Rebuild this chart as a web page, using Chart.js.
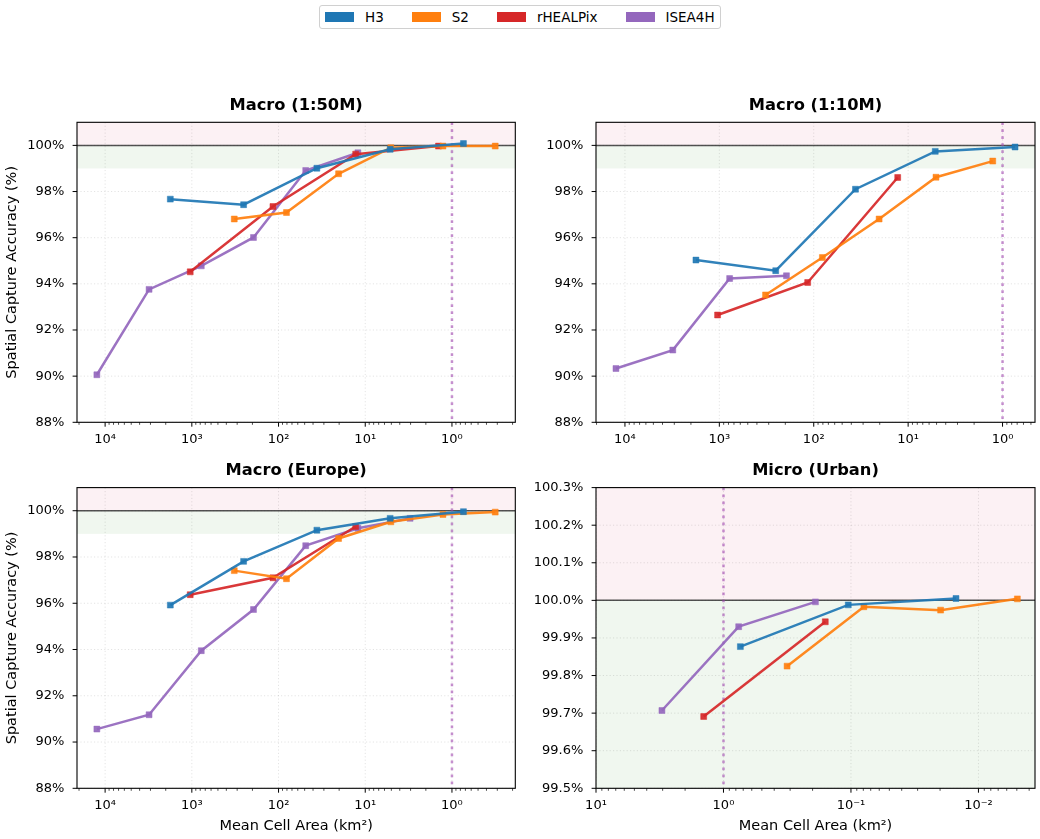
<!DOCTYPE html>
<html>
<head>
<meta charset="utf-8">
<title>Spatial Capture Accuracy by Grid System</title>
<script src="https://cdn.jsdelivr.net/npm/chart.js@4.4.1/dist/chart.umd.min.js"></script>
<style>
  html, body { margin: 0; padding: 0; background: #fff; }
  body { width: 1040px; height: 839px; position: relative; overflow: hidden; font-family: "DejaVu Sans", sans-serif; }
  canvas { position: absolute; display: block; }
  #legend {
    position: absolute; left: 319px; top: 5px; height: 24px;
    box-sizing: border-box; border: 1px solid #d0d0d0; border-radius: 3px;
    display: flex; align-items: center; padding: 0 5px 0 5px; gap: 28px;
    font-size: 13.5px; color: #000; background: #fff;
  }
  #legend .item { display: flex; align-items: center; gap: 11px; }
  #legend .patch { width: 29px; height: 10px; }
</style>
</head>
<body>
<div id="legend"></div>
<canvas id="p1" width="520" height="360" style="left:0;top:90px;width:520px;height:360px"></canvas>
<canvas id="p2" width="520" height="360" style="left:520px;top:90px;width:520px;height:360px"></canvas>
<canvas id="p3" width="520" height="389" style="left:0;top:450px;width:520px;height:389px"></canvas>
<canvas id="p4" width="520" height="389" style="left:520px;top:450px;width:520px;height:389px"></canvas>
<script>
// ---- grid systems ----
const SERIES = ['H3', 'S2', 'rHEALPix', 'ISEA4H'];
const COLORS = ['#1f77b4', '#ff7f0e', '#d62728', '#9467bd'];

// mean cell area (km²) of successive resolution levels
const H3_AREA   = [1770, 252.9, 36.13, 5.161, 0.737, 0.105, 0.0150];
const S2_AREA   = [324, 81, 20.3, 5.07, 1.27, 0.317, 0.0792, 0.0198, 0.00495];
const RHP_AREA  = [1044, 116, 12.9, 1.43, 0.159];
const ISEA_AREA = [12450, 3113, 778, 194.5, 48.6, 12.16, 3.04, 0.76, 0.19];

// spatial capture accuracy (%) — Macro (1:50M)
const M50_H3   = [97.67, 97.43, 99.01, 99.83, 100.08];
const M50_S2   = [96.81, 97.09, 98.77, 99.90, 99.97, 99.97];
const M50_RHP  = [94.52, 97.35, 99.62, 99.97];
const M50_ISEA = [90.06, 93.76, 94.78, 96.01, 98.91, 99.68];

// Macro (1:10M)
const M10_H3   = [95.03, 94.57, 98.10, 99.74, 99.93];
const M10_S2   = [93.52, 95.14, 96.81, 98.62, 99.32];
const M10_RHP  = [92.65, 94.06, 98.61];
const M10_ISEA = [90.33, 91.13, 94.23, 94.35];

// Macro (Europe)
const EU_H3   = [95.92, 97.81, 99.16, 99.67, 99.96];
const EU_S2   = [97.41, 97.06, 98.80, 99.52, 99.84, 99.94];
const EU_RHP  = [96.37, 97.10, 99.32];
const EU_ISEA = [90.56, 91.18, 93.95, 95.73, 98.49, 99.24, 99.67];

// Micro (Urban) — finer levels, so area lists start further in
const URB_H3   = [99.877, 99.988, 100.005];
const URB_S2   = [99.825, 99.983, 99.974, 100.004];
const URB_RHP  = [99.691, 99.943];
const URB_ISEA = [99.707, 99.930, 99.996];
const URB_START = [4, 5, 3, 6];

// tick labels
const X_MAJOR_MACRO = [1e4, 1e3, 1e2, 1e1, 1e0];
const X_LABEL_MACRO = ['10\u2074', '10\u00b3', '10\u00b2', '10\u00b9', '10\u2070'];
const X_MAJOR_MICRO = [1e1, 1e0, 1e-1, 1e-2];
const X_LABEL_MICRO = ['10\u00b9', '10\u2070', '10\u207b\u00b9', '10\u207b\u00b2'];
const Y_TICKS_MACRO = [88, 90, 92, 94, 96, 98, 100];
const Y_TICKS_MICRO = [99.5, 99.6, 99.7, 99.8, 99.9, 100.0, 100.1, 100.2, 100.3];

const AREAS = [H3_AREA, S2_AREA, RHP_AREA, ISEA_AREA];
const FONT = '"DejaVu Sans", sans-serif';

// legend
const legend = document.getElementById('legend');
SERIES.forEach((name, i) => {
  const it = document.createElement('div');
  it.className = 'item';
  const p = document.createElement('span');
  p.className = 'patch';
  p.style.background = COLORS[i];
  const t = document.createElement('span');
  t.textContent = name;
  it.appendChild(p); it.appendChild(t);
  legend.appendChild(it);
});

function withAlpha(hex, a) {
  const n = parseInt(hex.slice(1), 16);
  return `rgba(${(n >> 16) & 255},${(n >> 8) & 255},${n & 255},${a})`;
}

function logTicks(min, max, majors, labels) {
  const out = [];
  const k0 = Math.floor(Math.log10(min)), k1 = Math.ceil(Math.log10(max));
  for (let k = k0; k <= k1; k++) {
    for (let m = 1; m <= 9; m++) {
      const v = m * Math.pow(10, k);
      if (v < min || v > max) continue;
      const mi = majors.findIndex(t => Math.abs(Math.log10(t) - Math.log10(v)) < 1e-9);
      out.push({ value: v, txt: mi >= 0 ? labels[mi] : '', main: mi >= 0 });
    }
  }
  return out;
}

// bands, grid, reference lines, frame and tick marks
const decor = {
  id: 'decor',
  beforeDatasetsDraw(chart) {
    const { ctx, chartArea: a, scales: { x, y } } = chart;
    ctx.save();
    ctx.beginPath();
    ctx.rect(a.left, a.top, a.width, a.height);
    ctx.clip();
    const y100 = y.getPixelForValue(100);
    const y99 = Math.min(y.getPixelForValue(99), a.bottom);
    ctx.fillStyle = '#fcf1f4';
    ctx.fillRect(a.left, a.top, a.width, y100 - a.top);
    ctx.fillStyle = '#f0f7ef';
    ctx.fillRect(a.left, y100, a.width, y99 - y100);

    ctx.strokeStyle = 'rgba(0,0,0,0.14)';
    ctx.lineWidth = 0.8;
    ctx.setLineDash([1.2, 2.2]);
    x.ticks.forEach(t => {
      if (!t.main) return;
      const px = x.getPixelForValue(t.value);
      ctx.beginPath(); ctx.moveTo(px, a.top); ctx.lineTo(px, a.bottom); ctx.stroke();
    });
    y.ticks.forEach(t => {
      const py = y.getPixelForValue(t.value);
      ctx.beginPath(); ctx.moveTo(a.left, py); ctx.lineTo(a.right, py); ctx.stroke();
    });

    ctx.setLineDash([]);
    ctx.strokeStyle = 'rgba(40,40,40,0.8)';
    ctx.lineWidth = 1.5;
    ctx.beginPath(); ctx.moveTo(a.left, y100); ctx.lineTo(a.right, y100); ctx.stroke();

    const x1 = x.getPixelForValue(1);
    ctx.strokeStyle = 'rgba(160,70,175,0.6)';
    ctx.lineWidth = 2.5;
    ctx.setLineDash([2.6, 4.4]);
    ctx.beginPath(); ctx.moveTo(x1, a.top); ctx.lineTo(x1, a.bottom); ctx.stroke();
    ctx.restore();
  },
  afterDraw(chart) {
    const { ctx, chartArea: a, scales: { x, y } } = chart;
    ctx.save();
    ctx.strokeStyle = '#000';
    ctx.lineWidth = 1;
    x.ticks.forEach(t => {
      const px = x.getPixelForValue(t.value);
      const len = t.main ? 4.4 : 2.5;
      ctx.lineWidth = t.main ? 1 : 0.7;
      ctx.beginPath(); ctx.moveTo(px, a.bottom); ctx.lineTo(px, a.bottom + len); ctx.stroke();
    });
    ctx.lineWidth = 1;
    y.ticks.forEach(t => {
      const py = y.getPixelForValue(t.value);
      ctx.beginPath(); ctx.moveTo(a.left - 4.4, py); ctx.lineTo(a.left, py); ctx.stroke();
    });
    ctx.lineWidth = 1.1;
    ctx.strokeRect(a.left, a.top, a.width, a.height);
    ctx.restore();
  }
};

function makePanel(cfg) {
  const datasets = cfg.values.map((vals, i) => {
    const area = AREAS[i].slice(cfg.start[i], cfg.start[i] + vals.length);
    const c = withAlpha(COLORS[i], 0.92);
    return {
      label: SERIES[i],
      data: area.map((a, j) => ({ x: a, y: vals[j] })),
      borderColor: c,
      backgroundColor: c,
      borderWidth: 2.5,
      pointStyle: 'rect',
      pointRadius: 4.2,
      pointBackgroundColor: c,
      pointBorderColor: c,
      pointBorderWidth: 0.5,
      tension: 0,
      fill: false
    };
  });
  const xTicks = logTicks(cfg.xMin, cfg.xMax, cfg.xMajor, cfg.xLabels);
  new Chart(document.getElementById(cfg.id), {
    type: 'line',
    data: { datasets },
    options: {
      responsive: false,
      animation: false,
      events: [],
      layout: { padding: { left: 0, right: cfg.padRight, top: 0, bottom: 0 } },
      plugins: {
        legend: { display: false },
        tooltip: { enabled: false },
        title: {
          display: true,
          fullSize: false,
          text: cfg.title,
          color: '#000',
          font: { family: FONT, size: 16.3, weight: 'bold', lineHeight: 1.2 },
          padding: { top: cfg.titleTop, bottom: cfg.titleBottom }
        }
      },
      scales: {
        x: {
          type: 'logarithmic',
          reverse: true,
          min: cfg.xMin,
          max: cfg.xMax,
          grid: { display: true, drawOnChartArea: false, drawTicks: true, tickLength: 9.9, tickColor: 'rgba(0,0,0,0)' },
          border: { display: false },
          afterBuildTicks: s => { s.ticks = xTicks.map(t => ({ ...t })); },
          afterFit: s => { s.height = cfg.xHeight; },
          ticks: {
            autoSkip: false, maxRotation: 0, minRotation: 0, padding: 0,
            color: '#000', font: { family: FONT, size: 13 },
            callback: (v, i, ticks) => ticks[i].txt
          },
          title: {
            display: cfg.xTitle, text: 'Mean Cell Area (km\u00b2)', color: '#000',
            font: { family: FONT, size: 14.5 }, padding: { top: 0, bottom: 4 }
          }
        },
        y: {
          type: 'linear',
          min: cfg.yMin,
          max: cfg.yMax,
          grid: { display: true, drawOnChartArea: false, drawTicks: true, tickLength: 12.7, tickColor: 'rgba(0,0,0,0)' },
          border: { display: false },
          afterBuildTicks: s => { s.ticks = cfg.yTicks.map(v => ({ value: v })); },
          afterFit: s => { s.width = cfg.yWidth; },
          ticks: {
            padding: 0, color: '#000', font: { family: FONT, size: 13 },
            callback: v => v.toFixed(cfg.yDec) + '%'
          },
          title: {
            display: cfg.yTitle, text: 'Spatial Capture Accuracy (%)', color: '#000',
            font: { family: FONT, size: 14.5 }, padding: { top: 4, bottom: 0 }
          }
        }
      }
    },
    plugins: [decor]
  });
}

makePanel({
  id: 'p1', title: 'Macro (1:50M)',
  values: [M50_H3, M50_S2, M50_RHP, M50_ISEA], start: [0, 0, 0, 0],
  xMin: 0.186, xMax: 21100, xMajor: X_MAJOR_MACRO, xLabels: X_LABEL_MACRO,
  yMin: 88, yMax: 101, yTicks: Y_TICKS_MACRO, yDec: 0,
  yWidth: 77, padRight: 4, titleTop: 6.4, titleBottom: 6.35, xHeight: 27.7,
  xTitle: false, yTitle: true
});
makePanel({
  id: 'p2', title: 'Macro (1:10M)',
  values: [M10_H3, M10_S2, M10_RHP, M10_ISEA], start: [0, 0, 0, 0],
  xMin: 0.453, xMax: 20260, xMajor: X_MAJOR_MACRO, xLabels: X_LABEL_MACRO,
  yMin: 88, yMax: 101, yTicks: Y_TICKS_MACRO, yDec: 0,
  yWidth: 76, padRight: 5, titleTop: 6.4, titleBottom: 6.35, xHeight: 27.7,
  xTitle: false, yTitle: false
});
makePanel({
  id: 'p3', title: 'Macro (Europe)',
  values: [EU_H3, EU_S2, EU_RHP, EU_ISEA], start: [0, 0, 0, 0],
  xMin: 0.186, xMax: 21100, xMajor: X_MAJOR_MACRO, xLabels: X_LABEL_MACRO,
  yMin: 88, yMax: 101, yTicks: Y_TICKS_MACRO, yDec: 0,
  yWidth: 77, padRight: 4, titleTop: 11.2, titleBottom: 6.84, xHeight: 50.7,
  xTitle: true, yTitle: true
});
makePanel({
  id: 'p4', title: 'Micro (Urban)',
  values: [URB_H3, URB_S2, URB_RHP, URB_ISEA], start: URB_START,
  xMin: 0.0036, xMax: 10, xMajor: X_MAJOR_MICRO, xLabels: X_LABEL_MICRO,
  yMin: 99.5, yMax: 100.3, yTicks: Y_TICKS_MICRO, yDec: 1,
  yWidth: 76, padRight: 5, titleTop: 11.2, titleBottom: 6.84, xHeight: 50.7,
  xTitle: true, yTitle: false
});
</script>
</body>
</html>
